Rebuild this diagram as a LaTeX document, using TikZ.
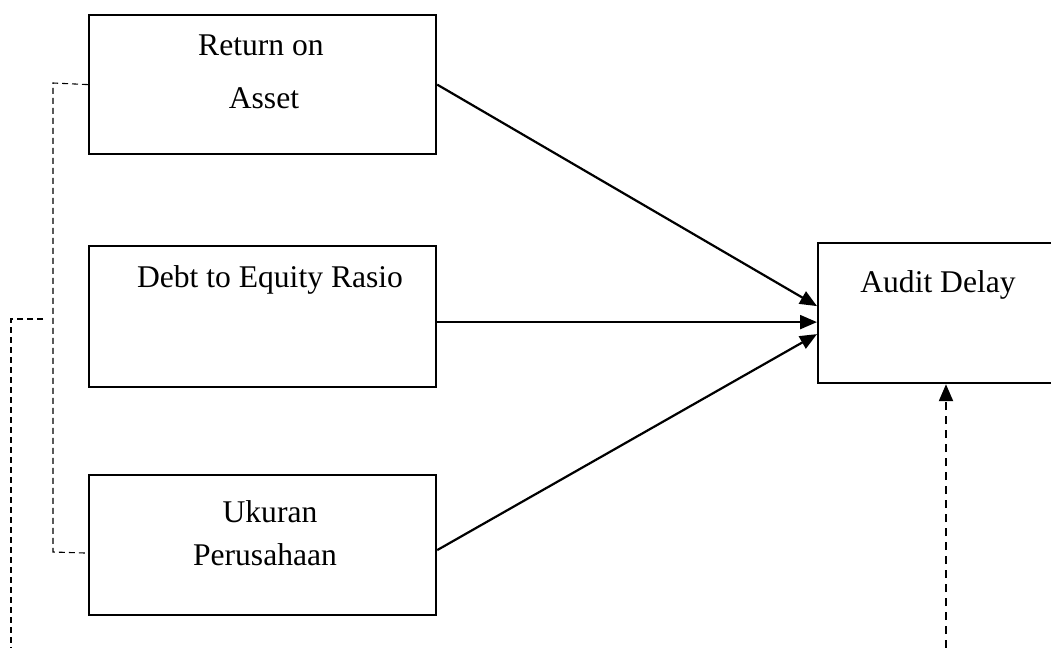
\documentclass[tikz,border=0pt]{standalone}
\usepackage{fontspec}
\setmainfont{Liberation Serif}
\usetikzlibrary{arrows.meta}
\begin{document}
\begin{tikzpicture}[x=0.5pt,y=-0.5pt,
  box/.style={draw,line width=1.1pt,rectangle,inner sep=0pt,anchor=north west},
  lbl/.style={font=\fontsize{15.8}{19}\selectfont,inner sep=0pt},
  arr/.style={line width=1.1pt,-{Triangle[length=8.5pt,width=7pt]}},
  thindash/.style={line width=0.55pt,dash pattern=on 3pt off 2pt},
  thickdash/.style={line width=1.1pt,dash pattern=on 4pt off 3pt,-{Triangle[length=8.5pt,width=7pt]}}]
\useasboundingbox (0,0) rectangle (1051,648);
% boxes
\node[box,minimum width=173.5pt,minimum height=69.5pt] (b1) at (88,14) {};
\node[box,minimum width=173.5pt,minimum height=70.5pt] (b2) at (88,245) {};
\node[box,minimum width=173.5pt,minimum height=70pt] (b3) at (88,474) {};
\node[box,minimum width=125pt,minimum height=70pt] (ad) at (817,242) {};
% texts
\node[lbl] (t1a) at (261,45) {Return on};
\node[lbl] (t1b) at (264,98) {Asset};
\node[lbl] (t2) at (270,280) {Debt to Equity Rasio};
\node[lbl] (t3a) at (270,512) {Ukuran};
\node[lbl] (t3b) at (265,555) {Perusahaan};
\node[lbl] (t4) at (938,285) {Audit Delay};
% arrows
\draw[arr] (b1.east) -- ([yshift=3.5pt]ad.west);
\draw[arr] ([yshift=-2.75pt]b2.east) -- ([yshift=-4.5pt]ad.west);
\draw[arr] ([yshift=-2.5pt]b3.east) -- ([yshift=-10.5pt]ad.west);
% bracket
\draw[thindash] (b1.west) -- (53,83) -- (53,552) -- ([yshift=-4pt]b3.west);
% outer dashed line
\coordinate (o1) at (43,319);
\coordinate (o2) at (11,648);
\draw[thindash] (o1) -- (11,319) -- (o2);
% vertical dashed arrow
\coordinate (v0) at (946,648);
\draw[thickdash] (v0) -- (v0 |- ad.south);
\end{tikzpicture}
\end{document}
